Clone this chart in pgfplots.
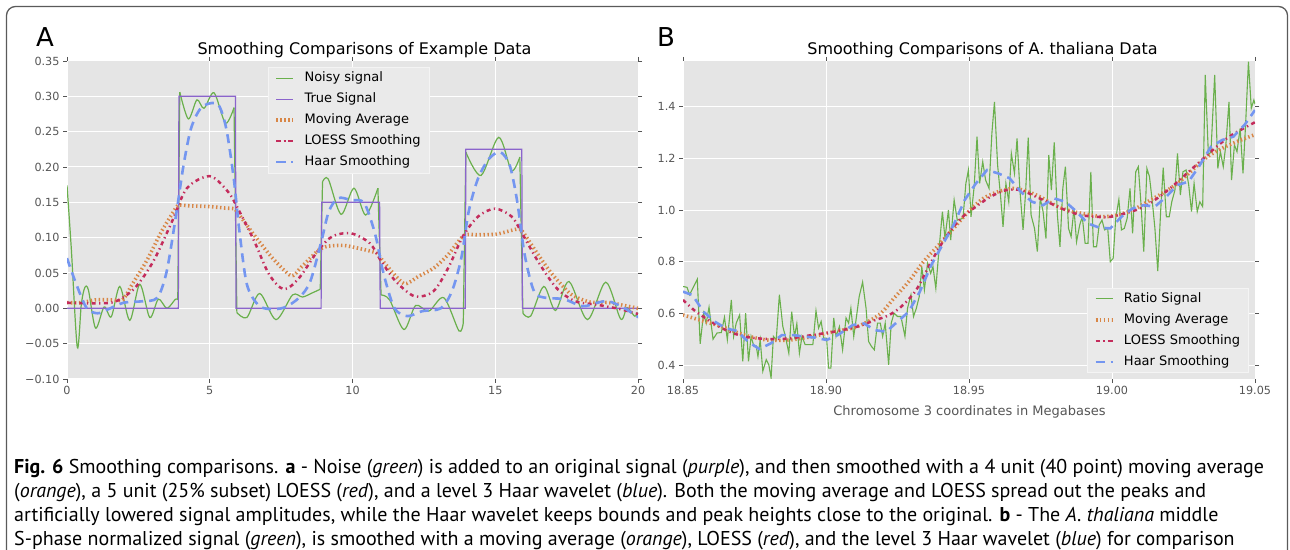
\documentclass[border=0pt]{standalone}
\usepackage{fontspec}
\setmainfont{DejaVu Sans}
\newfontfamily\capfont{PT Sans}
\usepackage{pgfplots}
\pgfplotsset{compat=1.18}
\definecolor{bgc}{RGB}{229,229,229}
\definecolor{tickc}{RGB}{85,85,85}
\definecolor{cgreen}{RGB}{106,176,76}
\definecolor{cpurple}{RGB}{139,100,204}
\definecolor{corange}{RGB}{216,134,70}
\definecolor{cred}{RGB}{196,44,92}
\definecolor{cblue}{RGB}{116,150,240}
\definecolor{legfill}{RGB}{234,234,234}
\definecolor{legdraw}{RGB}{244,244,244}
\definecolor{bordc}{RGB}{90,90,90}
\pgfplotsset{
  ggstyle/.style={
    scale only axis, anchor=south west,
    axis background/.style={fill=bgc},
    axis line style={draw=none},
    grid=major, major grid style={white, line width=1pt},
    tick align=outside, major tick length=4pt,
    every tick/.style={tickc, line width=0.8pt},
    ticklabel style={font=\fontsize{11.2}{13}\selectfont, text=tickc},
    legend cell align=left,
    legend style={fill=legfill, draw=legdraw, line width=0.8pt,
      font=\fontsize{13}{15}\selectfont, text=black,
      inner xsep=6pt, inner ysep=2pt, row sep=3.5pt,
      nodes={inner sep=2.5pt, text height=9.5pt, text depth=3pt},
      /tikz/every odd column/.append style={column sep=7pt}},
  },
  noisy/.style={cgreen, line width=1.2pt},
  truesig/.style={cpurple, line width=1.2pt},
  mavg/.style={corange, line width=3.6pt, dash pattern=on 1.4pt off 2.6pt},
  loess/.style={cred, line width=2.5pt, dash pattern=on 4pt off 3.5pt on 1.3pt off 3.5pt},
  haar/.style={cblue, line width=2.6pt, dash pattern=on 9pt off 6pt},
}
\begin{document}
\begin{tikzpicture}
\useasboundingbox (0,0) rectangle (1290pt,549pt);
\begin{scope}
\clip (0,0) rectangle (1290pt,549pt);
\draw[bordc, line width=1.3pt, rounded corners=9pt] (6.5pt,-30pt) -- (6.5pt,542.5pt) -- (1287.5pt,542.5pt) -- (1287.5pt,-30pt);
\end{scope}

\begin{axis}[ggstyle, at={(67pt,170pt)}, width=571pt, height=318pt,
  xmin=0, xmax=20, ymin=-0.10, ymax=0.35,
  xtick={0,5,10,15,20}, xticklabels={0,5,10,15,20},
  ytick={-0.10,-0.05,0,0.05,0.10,0.15,0.20,0.25,0.30,0.35},
  yticklabels={−0.10,−0.05,0.00,0.05,0.10,0.15,0.20,0.25,0.30,0.35},
  legend style={at={(0.352,0.981)}, anchor=north west}]
\addplot[noisy, smooth, tension=0.5] coordinates {
(0,0.174) (0.15,0.085) (0.36,-0.055) (0.5,0.005) (0.62,0.029) (0.75,0.026)
(1.0,-0.028) (1.3,0.002) (1.55,-0.012) (1.85,0.031) (2.2,-0.017) (2.55,0.034)
(2.9,-0.013) (3.2,0.013) (3.5,0.0) (3.8,0.013) (3.88,0.012)};
\addlegendentry{Noisy signal}
\addplot[noisy, forget plot] coordinates {(3.88,0.012) (3.95,0.306)};
\addplot[noisy, smooth, tension=0.5, forget plot] coordinates {
(3.95,0.306) (4.25,0.268) (4.55,0.295) (4.8,0.283) (5.15,0.305) (5.55,0.262) (5.85,0.284)};
\addplot[noisy, forget plot] coordinates {(5.85,0.284) (5.95,-0.006)};
\addplot[noisy, smooth, tension=0.5, forget plot] coordinates {
(5.95,-0.006) (6.3,-0.013) (6.75,0.021) (7.32,-0.016) (7.9,0.019) (8.25,0.016)
(8.6,0.022) (8.87,0.027)};
\addplot[noisy, forget plot] coordinates {(8.87,0.027) (8.95,0.179)};
\addplot[noisy, smooth, tension=0.5, forget plot] coordinates {
(8.95,0.179) (9.15,0.183) (9.6,0.133) (10.05,0.170) (10.46,0.132) (10.89,0.170)};
\addplot[noisy, forget plot] coordinates {(10.89,0.170) (11.0,0.019)};
\addplot[noisy, smooth, tension=0.5, forget plot] coordinates {
(11.0,0.019) (11.3,0.012) (11.8,-0.030) (12.21,0.004) (12.67,-0.004) (13.2,0.015)
(13.73,-0.032) (13.88,-0.021)};
\addplot[noisy, forget plot] coordinates {(13.88,-0.021) (13.97,0.221)};
\addplot[noisy, smooth, tension=0.5, forget plot] coordinates {
(13.97,0.221) (14.5,0.188) (15.12,0.242) (15.57,0.195) (15.86,0.214)};
\addplot[noisy, forget plot] coordinates {(15.86,0.214) (15.97,-0.007)};
\addplot[noisy, smooth, tension=0.5, forget plot] coordinates {
(15.97,-0.007) (16.24,-0.011) (16.7,0.031) (17.11,-0.003) (17.58,0.038) (18.23,-0.016)
(18.87,0.037) (19.39,-0.015) (19.62,0.001) (19.88,-0.011) (20.0,-0.006)};
\addplot[truesig] coordinates {
(0,0) (3.9,0) (3.92,0.3) (5.9,0.3) (5.92,0) (8.9,0) (8.92,0.15) (10.95,0.15)
(10.97,0) (13.95,0) (13.97,0.225) (15.93,0.225) (15.95,0) (20,0)};
\addlegendentry{True Signal}
\addplot[mavg, smooth, tension=0.4] coordinates {
(0,0.008) (0.5,0.008) (1.0,0.012) (1.6,0.012) (1.95,0.012) (2.3,0.035) (2.8,0.068)
(3.3,0.108) (3.75,0.138) (3.9,0.146) (4.3,0.145) (5.0,0.144) (5.5,0.142) (5.85,0.141)
(5.95,0.137) (6.55,0.104) (7.2,0.071) (7.85,0.046) (8.2,0.058) (8.8,0.082) (9.15,0.088)
(9.7,0.089) (10.2,0.085) (10.85,0.078) (11.1,0.065) (11.8,0.035) (12.3,0.045)
(12.85,0.057) (13.35,0.076) (13.9,0.103) (14.4,0.104) (15.05,0.105) (15.75,0.112)
(15.95,0.109) (16.5,0.076) (17.0,0.048) (17.65,0.020) (18.3,0.009) (19.0,0.008) (20.0,0.0)};
\addlegendentry{Moving Average}
\addplot[loess, smooth] coordinates {
(0,0.008) (1.07,0.007) (1.72,0.010) (2.38,0.029) (3.03,0.067) (3.68,0.123) (4.2,0.170)
(5.0,0.187) (5.64,0.165) (6.04,0.137) (6.56,0.095) (7.08,0.048) (7.6,0.027) (8.13,0.043)
(8.78,0.081) (9.3,0.102) (9.96,0.106) (10.61,0.092) (11.0,0.067) (11.52,0.038)
(12.18,0.017) (12.83,0.024) (13.35,0.057) (13.87,0.102) (14.4,0.130) (14.99,0.141)
(15.57,0.130) (15.97,0.104) (16.49,0.067) (17.14,0.029) (17.8,0.010) (18.58,0.005)
(19.36,-0.001) (20,-0.008)};
\addlegendentry{LOESS Smoothing}
\addplot[haar, smooth] coordinates {
(0,0.071) (0.29,0.038) (0.68,0.001) (1.07,-0.007) (1.46,-0.001) (1.99,0.008) (2.64,0.010)
(3.16,0.015) (3.49,0.052) (3.82,0.132) (4.08,0.202) (4.34,0.254) (4.66,0.282) (5.0,0.290)
(5.32,0.287) (5.58,0.254) (5.84,0.184) (6.04,0.109) (6.3,0.034) (6.69,0.005) (7.08,-0.001)
(7.6,0.001) (8.13,0.015) (8.52,0.038) (8.91,0.095) (9.17,0.137) (9.5,0.156) (9.96,0.153)
(10.41,0.149) (10.8,0.104) (11.07,0.052) (11.46,0.001) (11.92,-0.011) (12.44,-0.004)
(13.09,0.0) (13.48,0.024) (13.81,0.071) (14.07,0.137) (14.4,0.184) (14.79,0.212)
(15.18,0.221) (15.51,0.202) (15.77,0.151) (16.03,0.076) (16.36,0.024) (16.75,0.015)
(17.4,0.013) (18.06,0.003) (18.58,0.008) (18.97,0.010) (19.49,0.001) (19.95,-0.011) (20,-0.012)};
\addlegendentry{Haar Smoothing}
\end{axis}

\begin{axis}[ggstyle, at={(683pt,170pt)}, width=572pt, height=318pt,
  xmin=18.85, xmax=19.05, ymin=0.346, ymax=1.577,
  xtick={18.85,18.90,18.95,19.00,19.05}, xticklabels={18.85,18.90,18.95,19.00,19.05},
  ytick={0.4,0.6,0.8,1.0,1.2,1.4}, yticklabels={0.4,0.6,0.8,1.0,1.2,1.4},
  legend style={at={(0.9895,0.019)}, anchor=south east}]
\addplot[noisy, line width=1.1pt] table {
18.8500 0.704
18.8514 0.701
18.8523 0.672
18.8550 0.732
18.8560 0.482
18.8572 0.601
18.8581 0.562
18.8591 0.624
18.8605 0.500
18.8619 0.524
18.8634 0.526
18.8645 0.585
18.8655 0.498
18.8669 0.652
18.8677 0.511
18.8686 0.562
18.8698 0.594
18.8709 0.414
18.8719 0.601
18.8729 0.414
18.8738 0.511
18.8748 0.472
18.8756 0.474
18.8762 0.433
18.8770 0.498
18.8779 0.376
18.8791 0.421
18.8800 0.401
18.8808 0.350
18.8816 0.511
18.8826 0.498
18.8837 0.672
18.8849 0.549
18.8858 0.511
18.8870 0.446
18.8880 0.607
18.8890 0.511
18.8898 0.560
18.8907 0.446
18.8916 0.511
18.8927 0.479
18.8942 0.479
18.8954 0.479
18.8965 0.610
18.8974 0.543
18.8983 0.569
18.8992 0.504
18.9002 0.504
18.9009 0.388
18.9017 0.388
18.9027 0.582
18.9035 0.511
18.9047 0.549
18.9058 0.459
18.9070 0.582
18.9079 0.562
18.9087 0.620
18.9097 0.511
18.9105 0.575
18.9116 0.665
18.9128 0.721
18.9140 0.620
18.9149 0.491
18.9159 0.472
18.9169 0.459
18.9180 0.562
18.9190 0.562
18.9198 0.511
18.9207 0.562
18.9219 0.401
18.9228 0.562
18.9238 0.601
18.9250 0.588
18.9262 0.588
18.9276 0.511
18.9285 0.620
18.9297 0.672
18.9306 0.588
18.9316 0.620
18.9326 0.665
18.9335 0.781
18.9344 0.691
18.9355 0.794
18.9366 0.755
18.9374 0.781
18.9384 0.697
18.9395 0.846
18.9407 0.994
18.9416 0.891
18.9428 1.000
18.9436 0.884
18.9448 1.039
18.9459 0.961
18.9479 0.968
18.9489 1.103
18.9498 1.155
18.9507 0.974
18.9518 1.090
18.9528 1.284
18.9537 1.103
18.9548 1.187
18.9558 1.116
18.9570 1.084
18.9580 1.297
18.9589 1.419
18.9600 1.174
18.9610 1.058
18.9619 0.935
18.9629 1.103
18.9639 1.032
18.9648 1.219
18.9659 1.142
18.9668 1.277
18.9678 1.077
18.9689 0.923
18.9698 1.071
18.9707 1.280
18.9717 0.981
18.9729 0.929
18.9739 0.839
18.9749 1.045
18.9759 0.994
18.9769 0.890
18.9779 1.213
18.9788 1.077
18.9798 1.262
18.9809 0.981
18.9818 0.858
18.9828 1.084
18.9837 1.168
18.9848 0.929
18.9857 0.897
18.9867 1.006
18.9876 0.877
18.9887 0.942
18.9896 0.974
18.9906 0.871
18.9916 0.871
18.9926 1.148
18.9935 0.858
18.9946 0.858
18.9955 0.942
18.9965 0.961
18.9974 0.923
18.9985 0.929
18.9994 0.800
19.0004 0.813
19.0013 0.968
19.0024 1.041
19.0033 0.923
19.0043 0.929
19.0053 0.968
19.0063 1.084
19.0072 0.910
19.0083 1.148
19.0092 1.168
19.0102 1.013
19.0111 0.839
19.0122 1.161
19.0131 1.129
19.0141 1.032
19.0150 0.929
19.0160 0.764
19.0170 0.994
19.0179 1.164
19.0190 0.974
19.0200 0.974
19.0209 1.032
19.0220 1.077
19.0229 1.219
19.0239 1.058
19.0248 1.148
19.0259 1.155
19.0268 1.099
19.0278 0.994
19.0287 1.103
19.0298 0.994
19.0307 1.032
19.0317 1.013
19.0326 1.523
19.0337 1.213
19.0346 1.226
19.0359 1.523
19.0370 1.161
19.0379 1.226
19.0389 1.168
19.0398 1.252
19.0409 1.419
19.0418 1.116
19.0428 1.252
19.0437 1.226
19.0448 1.316
19.0458 1.142
19.0467 1.329
19.0477 1.574
19.0487 1.394
19.0496 1.426
19.0500 1.410
};
\addlegendentry{Ratio Signal}
\addplot[mavg, smooth] coordinates {
(18.8500,0.594) (18.8559,0.574) (18.8637,0.548) (18.8715,0.516) (18.8794,0.497)
(18.8872,0.497) (18.8950,0.510) (18.9028,0.529) (18.9107,0.548) (18.9185,0.594)
(18.9237,0.658) (18.9289,0.723) (18.9341,0.800) (18.9394,0.865) (18.9446,0.929)
(18.9498,0.994) (18.9550,1.045) (18.9602,1.071) (18.9655,1.084) (18.9707,1.071)
(18.9759,1.045) (18.9811,1.013) (18.9863,0.994) (18.9916,0.983) (18.9968,0.974)
(19.0020,0.981) (19.0072,1.000) (19.0124,1.032) (19.0176,1.065) (19.0229,1.103)
(19.0281,1.155) (19.0333,1.206) (19.0385,1.239) (19.0437,1.265) (19.0500,1.292)};
\addlegendentry{Moving Average}
\addplot[loess, smooth] coordinates {
(18.8500,0.652) (18.8546,0.606) (18.8598,0.568) (18.8650,0.535) (18.8715,0.510)
(18.8794,0.501) (18.8872,0.503) (18.8950,0.516) (18.9028,0.529) (18.9107,0.548)
(18.9172,0.574) (18.9218,0.592) (18.9263,0.626) (18.9315,0.690) (18.9368,0.800)
(18.9420,0.897) (18.9472,0.968) (18.9524,1.013) (18.9576,1.052) (18.9629,1.077)
(18.9681,1.077) (18.9733,1.052) (18.9785,1.026) (18.9837,1.000) (18.9889,0.981)
(18.9942,0.974) (18.9994,0.974) (19.0046,0.987) (19.0098,1.006) (19.0150,1.039)
(19.0203,1.084) (19.0255,1.135) (19.0307,1.187) (19.0359,1.239) (19.0411,1.285)
(19.0463,1.318) (19.0500,1.340)};
\addlegendentry{LOESS Smoothing}
\addplot[haar] coordinates {
(18.8500,0.684) (18.8533,0.671) (18.8572,0.606) (18.8611,0.568) (18.8650,0.542)
(18.8689,0.532) (18.8728,0.490) (18.8767,0.462) (18.8807,0.484) (18.8846,0.516)
(18.8885,0.516) (18.8924,0.510) (18.8963,0.506) (18.9002,0.497) (18.9041,0.516)
(18.9094,0.555) (18.9133,0.561) (18.9172,0.535) (18.9211,0.529) (18.9250,0.568)
(18.9289,0.606) (18.9328,0.684) (18.9368,0.787) (18.9407,0.865) (18.9446,0.942)
(18.9485,1.039) (18.9524,1.103) (18.9563,1.155) (18.9602,1.142) (18.9642,1.123)
(18.9681,1.071) (18.9720,1.032) (18.9759,1.019) (18.9798,1.045) (18.9837,1.032)
(18.9876,0.994) (18.9916,0.948) (18.9955,0.932) (18.9994,0.929) (19.0033,0.974)
(19.0072,1.006) (19.0111,1.019) (19.0150,1.013) (19.0190,1.052) (19.0229,1.097)
(19.0268,1.110) (19.0307,1.174) (19.0346,1.245) (19.0385,1.271) (19.0424,1.284)
(19.0463,1.329) (19.0500,1.387)};
\addlegendentry{Haar Smoothing}
\end{axis}

\node[anchor=base, font=\fontsize{16}{19}\selectfont] at (364.5pt,494pt) {Smoothing Comparisons of Example Data};
\node[anchor=base, font=\fontsize{16}{19}\selectfont] at (982.5pt,494pt) {Smoothing Comparisons of A. thaliana Data};
\node[anchor=base west, inner sep=0pt, font=\fontsize{26}{30}\selectfont] at (36pt,502pt) {A};
\node[anchor=base west, inner sep=0pt, font=\fontsize{26}{30}\selectfont] at (657pt,502pt) {B};
\node[anchor=base, inner sep=0pt, font=\fontsize{13}{15}\selectfont, text=tickc] at (969.5pt,133pt) {Chromosome 3 coordinates in Megabases};

\begin{scope}[every node/.style={anchor=base west, inner sep=0pt, font=\capfont\fontsize{20}{24}\selectfont}]
\node at (14pt,76pt) {\textbf{Fig. 6} Smoothing comparisons. \textbf{a} - Noise (\textit{green}) is added to an original signal (\textit{purple}), and then smoothed with a 4 unit (40 point) moving average};
\node at (14pt,52pt) {(\textit{orange}), a 5 unit (25\% subset) LOESS (\textit{red}), and a level 3 Haar wavelet (\textit{blue}). Both the moving average and LOESS spread out the peaks and};
\node at (14pt,28pt) {artificially lowered signal amplitudes, while the Haar wavelet keeps bounds and peak heights close to the original. \textbf{b} - The \textit{A. thaliana} middle};
\node at (14pt,4pt) {S-phase normalized signal (\textit{green}), is smoothed with a moving average (\textit{orange}), LOESS (\textit{red}), and the level 3 Haar wavelet (\textit{blue}) for comparison};
\end{scope}
\end{tikzpicture}
\end{document}
